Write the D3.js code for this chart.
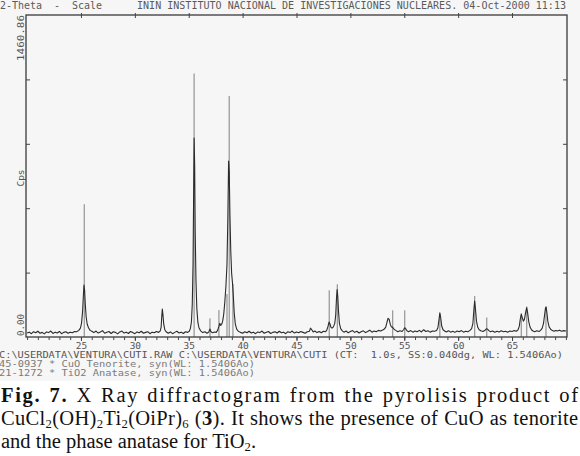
<!DOCTYPE html>
<html>
<head>
<meta charset="utf-8">
<script src="https://cdn.jsdelivr.net/npm/d3@7"></script>
<style>
  body { margin: 0; background: #fff; }
  svg { display: block; }
  .mono { font-family: "DejaVu Sans Mono", "Liberation Mono", monospace; white-space: pre; }
</style>
</head>
<body>
<svg id="chart" width="580" height="456"></svg>
<script>
// measured scan, [2-theta, counts]
var scan = [
  [20.0,18],[20.2,22],[20.4,15],[20.6,24],[20.8,19],[21.0,26],[21.2,17],[21.4,21],[21.6,14],[21.8,23],
  [22.0,20],[22.2,27],[22.4,16],[22.6,22],[22.8,18],[23.0,25],[23.2,15],[23.4,21],[23.6,24],[23.8,17],
  [24.0,22],[24.2,19],[24.4,25],[24.6,24],[24.8,30],[24.95,40],[25.05,62],[25.15,115],[25.22,185],[25.28,236],
  [25.34,212],[25.40,150],[25.48,92],[25.58,58],[25.7,42],[25.85,30],[26.0,26],
  [26.2,20],[26.4,27],[26.6,18],[26.8,23],[27.0,29],[27.2,17],[27.4,22],[27.6,25],[27.8,16],[28.0,24],
  [28.2,21],[28.4,14],[28.6,23],[28.8,27],[29.0,18],[29.2,22],[29.4,16],[29.6,25],[29.8,20],[30.0,15],
  [30.2,23],[30.4,19],[30.6,26],[30.8,17],[31.0,21],[31.2,24],[31.4,15],[31.6,22],[31.8,19],[32.0,25],
  [32.2,21],[32.35,27],[32.44,45],[32.5,95],[32.55,127],[32.6,105],[32.68,58],[32.78,33],[32.9,24],
  [33.1,17],[33.3,23],[33.5,15],[33.7,21],[33.9,26],[34.1,18],[34.3,22],[34.5,16],[34.7,24],[34.9,21],
  [35.05,26],[35.15,38],[35.25,68],[35.33,150],[35.4,330],[35.45,620],[35.5,903],[35.55,780],[35.6,480],
  [35.67,260],[35.75,130],[35.85,66],[35.95,42],[36.1,28],
  [36.3,20],[36.5,24],[36.7,17],[36.85,22],[36.97,36],[37.05,25],[37.2,19],[37.4,23],[37.55,21],[37.68,30],
  [37.8,48],[37.88,62],[37.97,52],[38.06,58],[38.15,72],[38.25,105],[38.35,160],[38.45,230],[38.55,330],
  [38.63,540],[38.7,798],[38.76,750],[38.82,560],[38.9,390],[38.98,290],[39.06,245],[39.14,185],[39.22,110],
  [39.32,60],[39.45,36],[39.6,26],
  [39.8,21],[40.0,17],[40.2,24],[40.4,19],[40.6,26],[40.8,18],[41.0,22],[41.2,15],[41.4,23],[41.6,20],
  [41.8,27],[42.0,17],[42.2,22],[42.4,25],[42.6,16],[42.8,21],[43.0,24],[43.2,18],[43.4,26],[43.6,19],
  [43.8,22],[44.0,15],[44.2,24],[44.4,20],[44.6,27],[44.8,18],[45.0,23],[45.2,19],[45.4,25],[45.6,21],
  [45.8,17],[46.0,24],[46.2,26],[46.3,40],[46.4,34],[46.55,23],[46.7,27],[46.9,20],[47.1,25],[47.3,19],
  [47.5,26],[47.7,24],[47.82,32],[47.92,48],[48.02,68],[48.1,60],[48.2,44],[48.3,40],[48.42,46],[48.55,62],
  [48.64,100],[48.71,175],[48.77,215],[48.83,185],[48.9,115],[48.98,62],[49.1,38],[49.25,28],
  [49.4,22],[49.6,27],[49.8,19],[50.0,25],[50.2,29],[50.4,21],[50.6,26],[50.8,18],[51.0,24],[51.2,28],
  [51.4,20],[51.6,25],[51.8,31],[52.0,22],[52.2,27],[52.4,24],[52.6,30],[52.8,27],[53.0,32],
  [53.15,36],[53.28,45],[53.4,68],[53.5,85],[53.6,80],[53.7,58],[53.8,46],[53.92,44],[54.05,36],[54.2,30],
  [54.4,24],[54.6,28],[54.8,25],[54.95,34],[55.04,42],[55.12,38],[55.25,28],[55.4,24],[55.6,29],[55.8,22],
  [56.0,27],[56.2,24],[56.4,30],[56.6,23],[56.8,33],[57.0,25],[57.2,28],[57.4,22],[57.6,27],[57.8,26],
  [58.0,30],[58.12,42],[58.22,78],[58.3,110],[58.38,88],[58.47,50],[58.6,33],[58.75,27],
  [58.9,23],[59.1,28],[59.3,22],[59.5,26],[59.7,21],[59.9,27],[60.1,24],[60.3,29],[60.5,22],[60.7,26],
  [60.9,24],[61.1,30],[61.25,38],[61.37,62],[61.46,125],[61.53,163],[61.6,130],[61.7,72],[61.82,44],
  [61.95,33],[62.1,28],[62.3,25],[62.5,31],[62.62,37],[62.72,36],[62.85,29],[63.0,24],[63.2,27],[63.4,22],
  [63.6,26],[63.8,23],[64.0,28],[64.2,24],[64.4,26],[64.6,22],[64.8,27],[65.0,25],[65.2,29],[65.4,26],
  [65.55,32],[65.67,48],[65.78,86],[65.86,103],[65.95,88],[66.05,72],[66.15,80],[66.26,112],[66.36,133],
  [66.45,108],[66.55,70],[66.68,44],[66.82,32],[66.95,27],[67.1,24],[67.3,28],[67.5,25],[67.65,30],
  [67.8,40],[67.92,62],[68.02,100],[68.1,130],[68.16,136],[68.23,112],[68.32,72],[68.44,46],[68.58,35],
  [68.75,29],[68.9,26],[69.05,30],[69.2,27],[69.4,31],[69.6,26],[69.8,29],[70.0,27]
];

// reference card lines, [2-theta, counts]
var tenoriteSticks = [[35.5,1196],[38.76,1093],[39.1,240],[48.79,239],[58.3,105],[61.53,186],[65.86,108],[66.36,138],[68.15,138]];
var anataseSticks = [[25.31,602],[36.97,85],[37.8,122],[38.55,195],[48.04,212],[53.92,121],[55.04,121],[62.65,88]];

var xTicks = [25, 30, 35, 40, 45, 50, 55, 60, 65];
var xMinor = d3.range(20, 71);
var yMax = 1460.86;
var yTickFractions = [0.2, 0.4, 0.6, 0.8];

var headerLeft = "2-Theta  -  Scale";
var headerRight = "ININ INSTITUTO NACIONAL DE INVESTIGACIONES NUCLEARES. 04-Oct-2000 11:13";
var footerLines = [
  "C:\\USERDATA\\VENTURA\\CUTI.RAW C:\\USERDATA\\VENTURA\\CUTI (CT:  1.0s, SS:0.040dg, WL: 1.5406Ao)",
  "45-0937 * CuO Tenorite, syn(WL: 1.5406Ao)",
  "21-1272 * TiO2 Anatase, syn(WL: 1.5406Ao)"
];
var captionLines = [
  "**Fig. 7.** X Ray diffractogram from the pyrolisis product of",
  "CuCl_{2}(OH)_{2}Ti_{2}(OiPr)_{6} (**3**). It shows the presence of CuO as tenorite",
  "and the phase anatase for TiO_{2}."
];

var svg = d3.select("#chart");
var plotLeft = 26, plotRight = 567, plotTop = 15, plotBottom = 337;

svg.append("rect").attr("width", 580).attr("height", 381).attr("fill", "#f6f6f6");
svg.append("rect").attr("y", 381).attr("width", 580).attr("height", 75).attr("fill", "#fff");

var x = d3.scaleLinear().domain([19.9, 70.1]).range([plotLeft, plotRight]);
var y = d3.scaleLinear().domain([0, yMax]).range([plotBottom, plotTop]);

// sticks first, scan on top
var sticks = tenoriteSticks.concat(anataseSticks);
svg.append("g").selectAll("line").data(sticks).join("line")
  .attr("x1", d => x(d[0])).attr("x2", d => x(d[0]))
  .attr("y1", y(0)).attr("y2", d => y(d[1]))
  .attr("stroke", "#9c9c9c").attr("stroke-width", 1.3);

var line = d3.line().x(d => x(d[0])).y(d => y(d[1]));
svg.append("path").datum(scan)
  .attr("d", line)
  .attr("fill", "none")
  .attr("stroke", "#2b2b2b")
  .attr("stroke-width", 1.1)
  .attr("stroke-linejoin", "round");

// frame
svg.append("rect")
  .attr("x", plotLeft).attr("y", plotTop)
  .attr("width", plotRight - plotLeft).attr("height", plotBottom - plotTop)
  .attr("fill", "none").attr("stroke", "#3a3a3a").attr("stroke-width", 1.3);

var tickStyle = function(g) {
  g.select(".domain").remove();
  g.selectAll(".tick line").attr("stroke", "#444").attr("stroke-width", 1);
  g.selectAll(".tick text").attr("fill", "#555")
    .attr("font-family", "DejaVu Sans Mono, monospace").attr("font-size", 9.5);
};

svg.append("g").attr("transform", "translate(0," + plotBottom + ")")
  .call(d3.axisBottom(x).tickValues(xMinor).tickSize(3).tickFormat(""))
  .call(tickStyle);
svg.append("g").attr("transform", "translate(0," + plotBottom + ")")
  .call(d3.axisBottom(x).tickValues(xTicks).tickSize(4).tickPadding(1).tickFormat(d3.format("d")))
  .call(tickStyle);
svg.append("g").attr("transform", "translate(0,13)")
  .call(d3.axisBottom(x).tickValues(xTicks).tickSize(5).tickFormat(""))
  .call(tickStyle);

var yTickValues = yTickFractions.map(f => f * yMax);
svg.append("g").attr("transform", "translate(" + plotLeft + ",0)")
  .call(d3.axisRight(y).tickValues(yTickValues).tickSize(4).tickFormat(""))
  .call(tickStyle);
svg.append("g").attr("transform", "translate(" + plotRight + ",0)")
  .call(d3.axisLeft(y).tickValues(yTickValues).tickSize(4).tickFormat(""))
  .call(tickStyle);

// y labels (rotated)
var yLabel = function(txt, ty, anchor, len) {
  var t = svg.append("text").attr("class", "mono")
    .attr("transform", "translate(24," + ty + ") rotate(-90)")
    .attr("text-anchor", anchor).attr("font-size", 9.5).attr("fill", "#555")
    .text(txt);
  if (len) t.attr("textLength", len).attr("lengthAdjust", "spacingAndGlyphs");
};
yLabel(d3.format(".2f")(yMax), 15, "end", 46);
yLabel("Cps", 178, "middle", 0);
yLabel(d3.format(".2f")(0), 336, "start", 22);

// header and footer text
var monoText = function(txt, tx, ty, size, len, col) {
  svg.append("text").attr("class", "mono")
    .attr("x", tx).attr("y", ty).attr("font-size", size).attr("fill", col)
    .attr("textLength", len).attr("lengthAdjust", "spacingAndGlyphs")
    .text(txt);
};
monoText(headerLeft, 0, 9, 10, 102, "#5a5a5a");
monoText(headerRight, 137, 9, 10, 429, "#5a5a5a");
monoText(footerLines[0], -1, 358, 9, 564, "#555");
monoText(footerLines[1], -1, 367, 9, 256, "#7a7a7a");
monoText(footerLines[2], -1, 376, 9, 256, "#7a7a7a");

// caption: **bold**, _{subscript}
var parseLine = function(str) {
  var bold = false, words = [[]];
  str.split(/(\*\*|_\{[^}]*\})/).forEach(function(tok) {
    if (tok === "**") { bold = !bold; return; }
    if (tok.indexOf("_{") === 0) {
      words[words.length - 1].push({t: tok.slice(2, -1), b: bold, s: true});
      return;
    }
    tok.split(" ").forEach(function(w, i) {
      if (i > 0) words.push([]);
      if (w) words[words.length - 1].push({t: w, b: bold, s: false});
    });
  });
  return words.filter(w => w.length);
};

var capLeft = 1, capRight = 578, capSize = 20.5;
var capY = [402, 425, 448];
captionLines.forEach(function(str, i) {
  var words = parseLine(str);
  var g = svg.append("g");
  var nodes = words.map(function(w) {
    var t = g.append("text").attr("y", capY[i])
      .attr("font-family", "Liberation Serif, Times New Roman, serif")
      .attr("font-size", capSize).attr("fill", "#111");
    var prevSub = false;
    w.forEach(function(seg) {
      var ts = t.append("tspan").text(seg.t);
      if (seg.b) ts.attr("font-weight", "bold");
      if (seg.s) { ts.attr("font-size", capSize * 0.62); if (!prevSub) ts.attr("dy", 3); }
      else if (prevSub) ts.attr("dy", -3);
      prevSub = seg.s;
    });
    return t;
  });
  var widths = nodes.map(t => t.node().getComputedTextLength());
  var chars = words.map(w => d3.sum(w, s => s.t.length));
  var space = capSize * 0.25;
  var gap = space, ls = 0;
  if (i < captionLines.length - 1) {
    // justified: part of the slack goes into letter spacing, rest into word gaps
    var slack = (capRight - capLeft) - d3.sum(widths) - space * (nodes.length - 1);
    ls = slack * 0.6 / d3.sum(chars, c => c - 1);
    gap = space + slack * 0.4 / (nodes.length - 1);
  }
  var cx = capLeft;
  nodes.forEach(function(t, j) {
    t.attr("x", cx).attr("letter-spacing", ls);
    cx += widths[j] + ls * (chars[j] - 1) + gap;
  });
});
</script>
</body>
</html>
